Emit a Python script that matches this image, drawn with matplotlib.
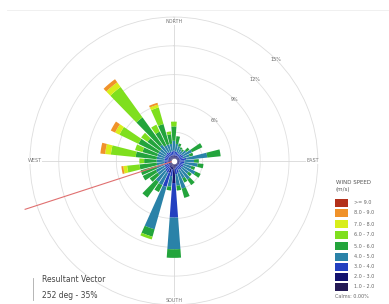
import numpy as np
import matplotlib
matplotlib.use('Agg')
import matplotlib.pyplot as plt
from matplotlib.patches import Rectangle

# wind directions (deg) and frequency (%) of each speed class, lowest class first
directions = np.arange(0, 360, 10)

s_1_2 = [.3, .3, .3, .3, .3, .3, .3, .3, .3, .3, .3, .3, .3, .3, .3, .3, .3, .4,
         .8, .4, .5, .4, .3, .3, .3, .3, .3, .3, .3, .3, .3, .3, .3, .3, .3, .3]
s_2_3 = [.3, .3, .3, .3, .3, .3, .3, .3, .4, .3, .3, .3, .3, .3, .3, .3, .4, .4,
         1.5, .5, .8, .4, .4, .3, .3, .3, .3, .3, .3, .3, .3, .3, .3, .3, .3, .3]
s_3_4 = [.5, .4, .4, .3, .3, .4, .5, .4, .6, .5, .5, .4, .5, .4, .5, .4, .6, .6,
         3.6, .7, 1.5, .6, .6, .5, .5, .4, .4, .4, .4, .4, .4, .4, .5, .4, .4, .4]
s_4_5 = [1.0, .8, .6, .5, .4, .6, 1.0, .7, 2.2, 1.0, 1.4, .9, 1.4, .9, 1.3, 1.0, 1.7, 1.2,
         3.3, 1.1, 4.6, 1.4, 1.4, 1.0, 1.0, .9, .8, .8, .8, .8, .8, .8, 1.0, .8, .8, .8]
s_5_6 = [1.5, .8, .3, .2, .2, .4, 1.2, .4, 1.4, .5, .6, .4, .6, .4, .7, .5, 1.0, .5,
         .9, .4, .8, .8, 2.0, 1.0, 1.5, 1.7, 1.8, 1.3, 2.2, 1.6, 2.3, 1.6, 3.5, 1.6, 2.2, 1.0]
s_6_7 = [.5, 0, 0, 0, 0, 0, 0, 0, 0, 0, 0, 0, 0, 0, 0, 0, 0, 0,
         0, 0, .3, 0, 0, 0, 0, 0, 1.3, .5, 2.6, .8, 2.2, .8, 3.9, .8, 1.8, .3]
s_7_8 = [0, 0, 0, 0, 0, 0, 0, 0, 0, 0, 0, 0, 0, 0, 0, 0, 0, 0,
         0, 0, 0, 0, 0, 0, 0, 0, .4, 0, .6, 0, .5, 0, .6, 0, .3, 0]
s_8_9 = [0, 0, 0, 0, 0, 0, 0, 0, 0, 0, 0, 0, 0, 0, 0, 0, 0, 0,
         0, 0, 0, 0, 0, 0, 0, 0, .2, 0, .5, 0, .5, 0, .4, 0, .2, 0]
s_9_up = [0] * 36

classes = [s_1_2, s_2_3, s_3_4, s_4_5, s_5_6, s_6_7, s_7_8, s_8_9, s_9_up]
class_labels = ['1.0 - 2.0', '2.0 - 3.0', '3.0 - 4.0', '4.0 - 5.0', '5.0 - 6.0',
                '6.0 - 7.0', '7.0 - 8.0', '8.0 - 9.0', '>= 9.0']
colors = ['#241a55', '#12126e', '#2340c0', '#2a82a8', '#23a43c',
          '#7fdf1e', '#d8ee1a', '#f0922a', '#b3301a']

rings = [3, 6, 9, 12, 15]
ring_labels = ['6%', '9%', '12%', '15%']
resultant_dir = 252
resultant_len = 16.3

fig = plt.figure(figsize=(3.89, 3.04), dpi=100)
ax = fig.add_axes([0.077, -0.003, 0.740, 0.947], projection='polar')
ax.set_theta_zero_location('N')
ax.set_theta_direction(-1)
ax.set_rlim(0, 15)
ax.set_xticks([])
ax.set_yticks([])
ax.grid(False)
ax.spines['polar'].set_color('#dddddd')
ax.spines['polar'].set_linewidth(0.6)

theta_full = np.linspace(0, 2 * np.pi, 300)
for r in rings[:-1]:
    ax.plot(theta_full, [r] * 300, color='#e0e0e0', lw=0.6, zorder=1)
for a in [0, 90]:
    t = np.radians(a)
    ax.plot([t, t + np.pi], [15, 15], color='#d8d8d8', lw=0.6, zorder=1)

theta = np.radians(directions)
bottom = np.zeros(36)
for vals, col in zip(classes, colors):
    vals = np.array(vals)
    ax.bar(theta, vals, width=np.radians(8.5), bottom=bottom, color=col,
           edgecolor='none', zorder=3)
    bottom += vals

ax.plot([0, np.radians(resultant_dir)], [0, resultant_len], color='#e07070',
        lw=0.8, zorder=4, clip_on=False)
ax.plot([0], [0], 'o', ms=3, color='white', zorder=6)

for lab, a in zip(['NORTH', 'EAST', 'SOUTH', 'WEST'], [0, 90, 180, 270]):
    ax.text(np.radians(a), 14.5, lab, fontsize=3.5, color='#777777', ha='center',
            va='center', zorder=5,
            bbox=dict(facecolor='white', edgecolor='none', pad=0.5))
for r, lab in zip(rings[1:], ring_labels):
    ax.text(np.radians(45), r, lab, fontsize=3.5, color='#666666', ha='center',
            va='center', zorder=5)

# legend
fig.text(336 / 389, 1 - 182 / 304, 'WIND SPEED', fontsize=4, color='#555555', va='center')
fig.text(336 / 389, 1 - 189 / 304, '(m/s)', fontsize=4, color='#555555', va='center')
rows_y = [203, 213, 224, 235, 246, 257, 267, 277, 287]
for yy, col, lab in zip(rows_y, colors[::-1], class_labels[::-1]):
    fig.patches.append(Rectangle((335 / 389, 1 - (yy + 4) / 304), 13 / 389, 8 / 304,
                                 transform=fig.transFigure, facecolor=col,
                                 edgecolor='none'))
    fig.text(354 / 389, 1 - yy / 304, lab, fontsize=3.5, color='#666666', va='center')
fig.text(335 / 389, 1 - 297 / 304, 'Calms: 0.00%', fontsize=3.5, color='#666666', va='center')

# resultant vector note
fig.text(42 / 389, 1 - 280 / 304, 'Resultant Vector', fontsize=5.5, color='#444444', va='center')
fig.text(42 / 389, 1 - 295 / 304, '252 deg - 35%', fontsize=5.5, color='#444444', va='center')
fig.lines.append(plt.Line2D([33 / 389, 33 / 389], [1 - 300 / 304, 1 - 278 / 304],
                            transform=fig.transFigure, color='#aaaaaa', lw=0.6))
fig.lines.append(plt.Line2D([7 / 389, 1], [1 - 10 / 304, 1 - 10 / 304],
                            transform=fig.transFigure, color='#eeeeee', lw=0.6))

fig.savefig('out.png', dpi=100)
